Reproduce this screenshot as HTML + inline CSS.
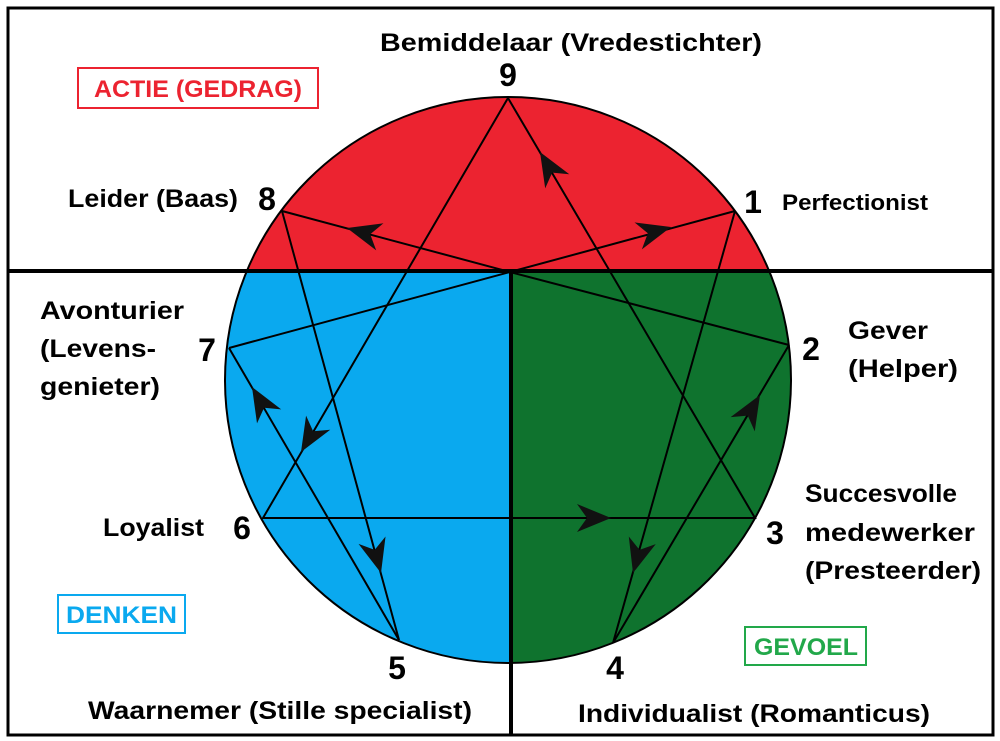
<!DOCTYPE html>
<html><head><meta charset="utf-8"><style>
html,body{margin:0;padding:0;background:#fff}
svg{display:block}
text{font-family:"Liberation Sans",sans-serif;font-weight:bold;fill:#000}
</style></head><body>
<svg width="1000" height="741" viewBox="0 0 1000 741" xmlns="http://www.w3.org/2000/svg">
<defs><clipPath id="c"><circle cx="508" cy="380" r="283"/></clipPath></defs>
<g clip-path="url(#c)">
<rect x="200" y="90" width="620" height="182" fill="#ec2330"/>
<rect x="200" y="272" width="311" height="400" fill="#0aa9ef"/>
<rect x="511" y="272" width="310" height="400" fill="#0f732e"/>
</g>
<circle cx="508" cy="380" r="283" fill="none" stroke="#000" stroke-width="2"/>
<rect x="8" y="8" width="985" height="727" fill="none" stroke="#000" stroke-width="3"/>
<line x1="8" y1="271" x2="993" y2="271" stroke="#000" stroke-width="4"/>
<line x1="511" y1="271" x2="511" y2="735" stroke="#000" stroke-width="4"/>
<g stroke="#000" stroke-width="2" fill="none">
<polyline points="508,98 755,518 263,518 508,98"/>
<polyline points="282,211 510,272 735,211"/>
<polyline points="229,348 510,272 789,345"/>
<line x1="282" y1="211" x2="399" y2="640"/>
<line x1="229" y1="348" x2="399" y2="640"/>
<line x1="735" y1="211" x2="613" y2="643"/>
<line x1="789" y1="345" x2="613" y2="643"/>
</g>
<g fill="#111">
<path d="M0,0 L-34,-14 L-24,0 L-34,14 Z" transform="translate(347,228) rotate(195)"/>
<path d="M0,0 L-34,-14 L-24,0 L-34,14 Z" transform="translate(671,227) rotate(-15.2)"/>
<path d="M0,0 L-34,-14 L-24,0 L-34,14 Z" transform="translate(540,152) rotate(-120.5)"/>
<path d="M0,0 L-34,-14 L-24,0 L-34,14 Z" transform="translate(301,452) rotate(120.3)"/>
<path d="M0,0 L-34,-14 L-24,0 L-34,14 Z" transform="translate(252,387) rotate(-120.2)"/>
<path d="M0,0 L-34,-14 L-24,0 L-34,14 Z" transform="translate(381,573) rotate(74.7)"/>
<path d="M0,0 L-34,-14 L-24,0 L-34,14 Z" transform="translate(633,573) rotate(105.8)"/>
<path d="M0,0 L-34,-14 L-24,0 L-34,14 Z" transform="translate(760,395) rotate(-59.4)"/>
<path d="M0,0 L-34,-14 L-24,0 L-34,14 Z" transform="translate(611,518) rotate(0)"/>
</g>
<rect x="78" y="68" width="240" height="40" fill="#fff" stroke="#ec2330" stroke-width="2"/>
<text x="94" y="97" font-size="24" textLength="208" lengthAdjust="spacingAndGlyphs" style="fill:#ec2330">ACTIE (GEDRAG)</text>
<rect x="58" y="595" width="127" height="38" fill="#fff" stroke="#0aa9ef" stroke-width="2"/>
<text x="66" y="623" font-size="24" textLength="111" lengthAdjust="spacingAndGlyphs" style="fill:#0aa9ef">DENKEN</text>
<rect x="745" y="627" width="121" height="38" fill="#fff" stroke="#22a84a" stroke-width="2"/>
<text x="754" y="655" font-size="24" textLength="104" lengthAdjust="spacingAndGlyphs" style="fill:#22a84a">GEVOEL</text>
<g font-size="25">
<text x="380" y="51" textLength="382" lengthAdjust="spacingAndGlyphs">Bemiddelaar (Vredestichter)</text>
<text x="68" y="207" textLength="170" lengthAdjust="spacingAndGlyphs">Leider (Baas)</text>
<text x="40" y="319" textLength="144" lengthAdjust="spacingAndGlyphs">Avonturier</text>
<text x="40" y="357" textLength="116" lengthAdjust="spacingAndGlyphs">(Levens-</text>
<text x="40" y="395" textLength="120" lengthAdjust="spacingAndGlyphs">genieter)</text>
<text x="848" y="339" textLength="80" lengthAdjust="spacingAndGlyphs">Gever</text>
<text x="848" y="377" textLength="110" lengthAdjust="spacingAndGlyphs">(Helper)</text>
<text x="103" y="536" textLength="101" lengthAdjust="spacingAndGlyphs">Loyalist</text>
<text x="805" y="502" textLength="152" lengthAdjust="spacingAndGlyphs">Succesvolle</text>
<text x="805" y="541" textLength="170" lengthAdjust="spacingAndGlyphs">medewerker</text>
<text x="805" y="579" textLength="176" lengthAdjust="spacingAndGlyphs">(Presteerder)</text>
<text x="88" y="719" textLength="384" lengthAdjust="spacingAndGlyphs">Waarnemer (Stille specialist)</text>
<text x="578" y="722" textLength="352" lengthAdjust="spacingAndGlyphs">Individualist (Romanticus)</text>
</g>
<text x="782" y="210" font-size="22" textLength="146" lengthAdjust="spacingAndGlyphs">Perfectionist</text>
<g font-size="32" text-anchor="middle">
<text x="508" y="86">9</text>
<text x="267" y="210">8</text>
<text x="753" y="213">1</text>
<text x="207" y="361">7</text>
<text x="811" y="360">2</text>
<text x="242" y="539">6</text>
<text x="775" y="544">3</text>
<text x="397" y="679">5</text>
<text x="615" y="679">4</text>
</g>
</svg>
</body></html>
